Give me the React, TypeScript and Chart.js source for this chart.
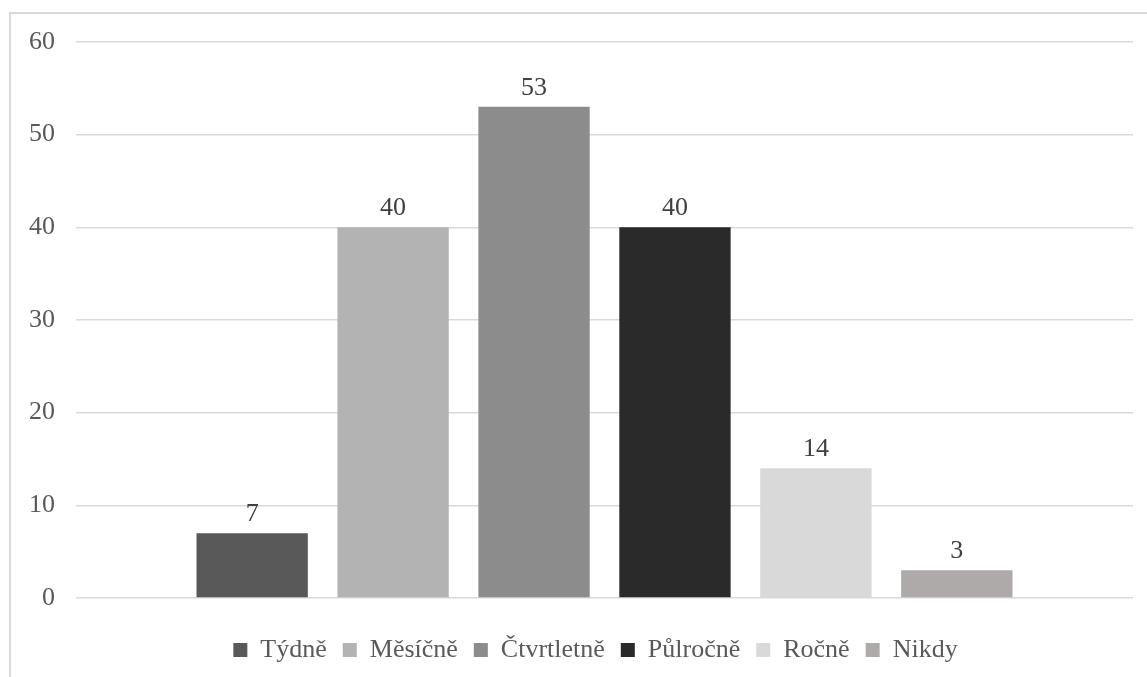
import React, { useEffect, useRef } from "react";
import { Chart, registerables } from "chart.js";

Chart.register(...registerables);

const seriesNames = ["Týdně", "Měsíčně", "Čtvrtletně", "Půlročně", "Ročně", "Nikdy"];
const seriesValues = [7, 40, 53, 40, 14, 3];
const seriesColors = ["#595959", "#b3b3b3", "#8c8c8c", "#2a2a2a", "#d9d9d9", "#aeaaaa"];
const yTicks = [0, 10, 20, 30, 40, 50, 60];

const FONT = "'Liberation Serif', 'Times New Roman', serif";

// Light frame around the chart (top and left edges visible)
const framePlugin = {
  id: "frame",
  beforeDraw(chart: any) {
    const ctx = chart.ctx;
    ctx.save();
    ctx.fillStyle = "#ffffff";
    ctx.fillRect(0, 0, chart.width, chart.height);
    ctx.strokeStyle = "#d9d9d9";
    ctx.lineWidth = 2;
    ctx.beginPath();
    ctx.moveTo(10, chart.height);
    ctx.lineTo(10, 13);
    ctx.lineTo(chart.width, 13);
    ctx.stroke();
    ctx.restore();
  },
};

// Centre the legend under the plot area rather than the whole canvas
const legendShiftPlugin = {
  id: "legendShift",
  afterLayout(chart: any) {
    if (chart.legend) chart.legend.left = chart.chartArea.left - 18;
  },
};

// Value labels above each bar
const valueLabelPlugin = {
  id: "valueLabels",
  afterDatasetsDraw(chart: any) {
    const ctx = chart.ctx;
    ctx.save();
    ctx.font = `26px ${FONT}`;
    ctx.fillStyle = "#404040";
    ctx.textAlign = "center";
    ctx.textBaseline = "middle";
    chart.data.datasets.forEach((ds: any, i: number) => {
      const meta = chart.getDatasetMeta(i);
      meta.data.forEach((bar: any, j: number) => {
        ctx.fillText(String(ds.data[j]), bar.x, bar.y - 19);
      });
    });
    ctx.restore();
  },
};

export default function App() {
  const canvasRef = useRef<HTMLCanvasElement>(null);

  useEffect(() => {
    if (!canvasRef.current) return;
    const chart = new Chart(canvasRef.current, {
      type: "bar",
      data: {
        labels: [""],
        datasets: seriesNames.map((name, i) => ({
          label: name,
          data: [seriesValues[i]],
          backgroundColor: seriesColors[i],
          borderWidth: 0,
          categoryPercentage: 0.8,
          barPercentage: 0.79,
        })),
      },
      options: {
        animation: false,
        responsive: false,
        maintainAspectRatio: false,
        layout: { padding: { left: 0, right: 14, top: 42, bottom: 4 } },
        plugins: {
          tooltip: { enabled: false },
          legend: {
            position: "bottom",
            labels: {
              boxWidth: 14,
              boxHeight: 14,
              padding: 16,
              color: "#595959",
              font: { family: FONT, size: 26 },
            },
          },
        },
        scales: {
          x: {
            display: true,
            grid: { display: false },
            border: { display: false },
            ticks: { display: false },
            afterFit: (s: any) => {
              s.height = 23;
            },
          },
          y: {
            min: 0,
            max: 60,
            afterBuildTicks: (s: any) => {
              s.ticks = yTicks.map((v) => ({ value: v }));
            },
            grid: { color: "#d9d9d9", lineWidth: 1.5, drawTicks: false },
            border: { display: false },
            ticks: {
              padding: 21,
              color: "#595959",
              font: { family: FONT, size: 26 },
            },
            afterFit: (s: any) => {
              s.width = 76;
            },
          },
        },
      },
      plugins: [framePlugin, legendShiftPlugin, valueLabelPlugin],
    });
    return () => chart.destroy();
  }, []);

  return (
    <div style={{ position: "absolute", left: 0, top: 0, width: 1147, height: 677, overflow: "hidden" }}>
      <canvas ref={canvasRef} width={1147} height={677} style={{ display: "block" }} />
    </div>
  );
}
